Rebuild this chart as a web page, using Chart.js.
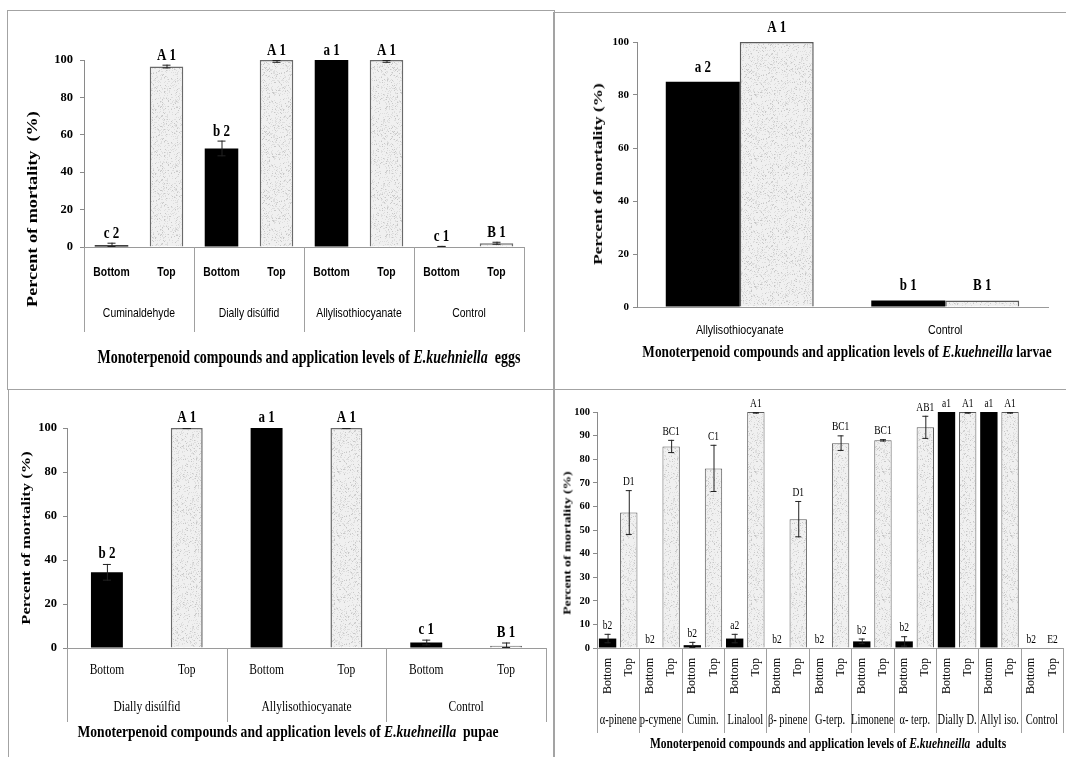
<!DOCTYPE html>
<html>
<head>
<meta charset="utf-8">
<script src="https://cdn.jsdelivr.net/npm/chart.js@4.4.0/dist/chart.umd.min.js"></script>
<style>
  body { margin: 0; background: #fff; width: 1066px; height: 757px; overflow: hidden; position: relative; }
  .panel { position: absolute; border: 1.5px solid #a3a3a3; box-sizing: border-box; }
  canvas { position: absolute; }
  .ttl, .ytl { position: absolute; white-space: nowrap; font-family: "Liberation Serif", "Times New Roman", serif; font-weight: bold; color: #000; }
  .ttl { transform: translate(-50%, -50%) scaleY(1.3); }
  .ytl { transform: translate(-50%, -50%) rotate(-90deg) scaleX(1.3); }
</style>
</head>
<body>
<div class="panel" style="left:7px;top:10px;width:548px;height:380px"></div>
<div class="panel" style="left:553px;top:12px;width:520px;height:378px"></div>
<div class="panel" style="left:8px;top:389px;width:547px;height:380px"></div>
<div class="panel" style="left:553px;top:389px;width:520px;height:380px"></div>

<canvas id="eggs" width="546" height="379" style="left:7px;top:10px"></canvas>
<canvas id="larvae" width="513" height="377" style="left:553px;top:12px"></canvas>
<canvas id="pupae" width="545" height="368" style="left:8px;top:389px"></canvas>
<canvas id="adults" width="513" height="368" style="left:553px;top:389px"></canvas>

<div class="ytl" style="left:33px;top:209px;font-size:14px">Percent of mortality&nbsp; (%)</div>
<div class="ttl" style="left:309px;top:358px;font-size:14px">Monoterpenoid compounds and application levels of <i>E.kuehniella</i>&nbsp; eggs</div>

<div class="ytl" style="left:598px;top:174px;font-size:13.3px">Percent of mortality (%)</div>
<div class="ttl" style="left:847px;top:352px;font-size:13.3px">Monoterpenoid compounds and application levels of <i>E.kuehneilla</i> larvae</div>

<div class="ytl" style="left:26px;top:538px;font-size:12.7px">Percent of mortality (%)</div>
<div class="ttl" style="left:288px;top:732px;font-size:13.6px">Monoterpenoid compounds and application levels of <i>E.kuehneilla</i>&nbsp; pupae</div>

<div class="ytl" style="left:567px;top:543px;font-size:10.5px">Percent of mortality (%)</div>
<div class="ttl" style="left:828px;top:743px;font-size:11.5px">Monoterpenoid compounds and application levels of <i>E.kuehneilla</i>&nbsp; adults</div>

<script>
// niveaux d'application
const levels = ['Bottom', 'Top'];

// oeufs
const eggGroups = ['Cuminaldehyde', 'Dially disúlfid', 'Allylisothiocyanate', 'Control'];
const eggBottom = [1, 52.7, 100, 0.3];
const eggTop = [96.5, 100, 100, 2];
const eggBottomErr = [1.3, 4.2, 0, 0.3];
const eggTopErr = [1, 1.5, 1.5, 0.8];
const eggBottomTags = ['c 2', 'b 2', 'a 1', 'c 1'];
const eggTopTags = ['A 1', 'A 1', 'A 1', 'B 1'];

// larves
const larvaGroups = ['Allylisothiocyanate', 'Control'];
const larvaBottom = [85, 2.5];
const larvaTop = [100, 2.5];
const larvaBottomTags = ['a 2', 'b 1'];
const larvaTopTags = ['A 1', 'B 1'];

// nymphes
const pupaGroups = ['Dially disúlfid', 'Allylisothiocyanate', 'Control'];
const pupaBottom = [34.4, 100, 2.5];
const pupaTop = [100, 100, 1];
const pupaBottomErr = [3.8, 0, 1.3];
const pupaTopErr = [0.5, 0.5, 1.5];
const pupaBottomTags = ['b 2', 'a 1', 'c 1'];
const pupaTopTags = ['A 1', 'A 1', 'B 1'];

// adultes
const adultGroups = ['α-pinene', 'p-cymene', 'Cumin.', 'Linalool', 'β- pinene', 'G-terp.', 'Limonene', 'α- terp.', 'Dially D.', 'Allyl iso.', 'Control'];
const adultBottom = [4, 0, 1.2, 4, 0, 0, 2.8, 2.8, 100, 100, 0];
const adultTop = [57.4, 85.4, 76.1, 100, 54.6, 86.8, 88, 93.5, 100, 100, 0];
const adultBottomErr = [2, 0, 1.4, 2, 0, 0, 1.2, 2.2, 0, 0, 0];
const adultTopErr = [9.5, 2.8, 10, 0.7, 7.7, 3.3, 0.5, 4.9, 0.7, 0.7, 0];
const adultBottomTags = ['b2', 'b2', 'b2', 'a2', 'b2', 'b2', 'b2', 'b2', 'a1', 'a1', 'b2'];
const adultTopTags = ['D1', 'BC1', 'C1', 'A1', 'D1', 'BC1', 'BC1', 'AB1', 'A1', 'A1', 'E2'];

const SERIF = '"Liberation Serif", "Times New Roman", serif';
const SANS = '"Liberation Sans", Arial, sans-serif';

// alterne Bottom / Top
const mix = (a, b) => a.flatMap((v, i) => [v, b[i]]);

// texture pointillée des barres "Top"
function stipple() {
    const c = document.createElement('canvas');
    c.width = 64; c.height = 64;
    const g = c.getContext('2d');
    const img = g.createImageData(64, 64);
    for (let y = 0; y < 64; y++) {
        for (let x = 0; x < 64; x++) {
            const h = (((x * 73856093) ^ (y * 19349663)) >>> 0) % 100;
            const v = h < 5 ? 200 : h < 22 ? 222 : 240;
            const k = (y * 64 + x) * 4;
            img.data[k] = v; img.data[k + 1] = v; img.data[k + 2] = v; img.data[k + 3] = 255;
        }
    }
    g.putImageData(img, 0, 0);
    return g.createPattern(c, 'repeat');
}
const dots = stipple();

function drawText(ctx, txt, x, y, font, align, baseline, sy, rot, sx) {
    ctx.save();
    ctx.translate(x, y);
    if (rot) ctx.rotate(rot);
    ctx.scale(sx || 1, sy || 1);
    ctx.font = font;
    ctx.fillStyle = '#000';
    ctx.textAlign = align;
    ctx.textBaseline = baseline;
    ctx.fillText(txt, 0, 0);
    ctx.restore();
}

const decor = {
    id: 'decor',
    afterDatasetsDraw(chart) {
        const o = chart.options.plugins.decor;
        const ctx = chart.ctx, ys = chart.scales.y;
        chart.data.datasets.forEach((ds, d) => {
            chart.getDatasetMeta(d).data.forEach((bar, i) => {
                const v = ds.data[i], e = ds.errs ? ds.errs[i] : 0;
                const x = bar.x;
                let top = ys.getPixelForValue(v);
                if (e > 0) {
                    const hi = ys.getPixelForValue(Math.min(100, v + e));
                    const lo = ys.getPixelForValue(Math.max(0, v - e));
                    ctx.save();
                    ctx.strokeStyle = '#222';
                    ctx.lineWidth = 1;
                    ctx.beginPath();
                    ctx.moveTo(x + 0.5, lo); ctx.lineTo(x + 0.5, hi);
                    ctx.moveTo(x - o.cap, hi + 0.5); ctx.lineTo(x + o.cap, hi + 0.5);
                    ctx.moveTo(x - o.cap, lo - 0.5); ctx.lineTo(x + o.cap, lo - 0.5);
                    ctx.stroke();
                    ctx.restore();
                    top = Math.min(top, hi);
                }
                drawText(ctx, ds.tags[i], x, top - o.tagGap, o.tagFont, 'center', 'alphabetic', o.tagSy);
            });
        });
    },
    afterDraw(chart) {
        const o = chart.options.plugins.decor;
        const ctx = chart.ctx, xs = chart.scales.x;
        const n = o.groups.length;
        const gw = xs.width / n;
        if (o.sepBottom) {
            ctx.save();
            ctx.strokeStyle = '#a0a0a0';
            ctx.lineWidth = 1;
            ctx.beginPath();
            for (let i = 0; i <= n; i++) {
                const x = Math.round(xs.left + i * gw) + 0.5;
                ctx.moveTo(x, xs.top);
                ctx.lineTo(x, o.sepBottom);
            }
            ctx.stroke();
            ctx.restore();
        }
        if (o.levelFont) {
            for (let j = 0; j < n * 2; j++) {
                const x = xs.getPixelForValue(j);
                if (o.levelRot) {
                    drawText(ctx, levels[j % 2], x, o.levelY, o.levelFont, 'right', 'middle', 1, -Math.PI / 2);
                } else {
                    drawText(ctx, levels[j % 2], x, o.levelY, o.levelFont, 'center', 'middle', o.levelSy, 0, o.levelSx);
                }
            }
        }
        o.groups.forEach((g, i) => {
            const x = o.levelFont ? xs.left + (i + 0.5) * gw : xs.getPixelForValue(i);
            drawText(ctx, g, x, o.groupY, o.groupFont, 'center', 'middle', o.groupSy, 0, o.groupSx);
        });
    }
};

function makeChart(id, cfg) {
    return new Chart(document.getElementById(id), {
        type: 'bar',
        data: { labels: cfg.labels, datasets: cfg.datasets },
        options: {
            responsive: false,
            animation: false,
            layout: { padding: { left: 0, top: cfg.top, right: cfg.right, bottom: 0 } },
            plugins: { legend: { display: false }, tooltip: { enabled: false }, decor: cfg.decor },
            scales: {
                x: {
                    grid: { display: false },
                    border: { display: true, color: '#9a9a9a', width: 1 },
                    ticks: { display: false },
                    afterFit: s => { s.height = cfg.xHeight; }
                },
                y: {
                    min: 0, max: 100,
                    grid: { display: true, drawOnChartArea: false, drawTicks: true, tickLength: 4, color: '#8a8a8a' },
                    border: { display: true, color: '#8a8a8a', width: 1 },
                    ticks: { stepSize: cfg.step, padding: cfg.tickPad, color: '#000', font: { family: SERIF, size: cfg.tickSize, weight: 'bold' } },
                    afterFit: s => { s.width = cfg.yWidth; }
                }
            }
        },
        plugins: [decor]
    });
}

const isTop = c => c.dataIndex % 2 === 1;

// oeufs
makeChart('eggs', {
    labels: mix(eggGroups, eggGroups),
    datasets: [{
        data: mix(eggBottom, eggTop),
        errs: mix(eggBottomErr, eggTopErr),
        tags: mix(eggBottomTags, eggTopTags),
        backgroundColor: c => isTop(c) ? dots : '#000',
        borderColor: c => isTop(c) ? '#6a6a6a' : '#000',
        borderWidth: c => isTop(c) ? 1.5 : 0,
        barPercentage: 0.61, categoryPercentage: 1
    }],
    top: 50, right: 29, xHeight: 142, yWidth: 77, step: 20, tickPad: 7, tickSize: 12.5,
    decor: { groups: eggGroups, cap: 4, tagFont: 'bold 13px ' + SERIF, tagSy: 1.3, tagGap: 5,
        sepBottom: 322, levelFont: 'bold 13px ' + SANS, levelY: 262, levelSy: 1.05, levelSx: 0.8,
        groupFont: '13px ' + SANS, groupY: 303, groupSy: 1.05, groupSx: 0.8 }
});

// larves
makeChart('larvae', {
    labels: larvaGroups,
    datasets: [{
        data: larvaBottom, tags: larvaBottomTags,
        backgroundColor: '#000', borderColor: '#000', borderWidth: 0,
        barPercentage: 1, categoryPercentage: 0.72
    }, {
        data: larvaTop, tags: larvaTopTags,
        backgroundColor: dots, borderColor: '#5a5a5a', borderWidth: 1.5,
        barPercentage: 1, categoryPercentage: 0.72
    }],
    top: 30, right: 18, xHeight: 82, yWidth: 84, step: 20, tickPad: 4, tickSize: 11,
    decor: { groups: larvaGroups, cap: 4, tagFont: 'bold 13px ' + SERIF, tagSy: 1.3, tagGap: 10,
        sepBottom: 0, levelFont: null, groupFont: '13px ' + SANS, groupY: 318, groupSy: 1.05, groupSx: 0.82 }
});

// nymphes
makeChart('pupae', {
    labels: mix(pupaGroups, pupaGroups),
    datasets: [{
        data: mix(pupaBottom, pupaTop),
        errs: mix(pupaBottomErr, pupaTopErr),
        tags: mix(pupaBottomTags, pupaTopTags),
        backgroundColor: c => isTop(c) ? dots : '#000',
        borderColor: c => isTop(c) ? '#6a6a6a' : '#000',
        borderWidth: c => isTop(c) ? 1.5 : 0,
        barPercentage: 0.4, categoryPercentage: 1
    }],
    top: 39, right: 7, xHeight: 109, yWidth: 59, step: 20, tickPad: 6, tickSize: 12.5,
    decor: { groups: pupaGroups, cap: 4, tagFont: 'bold 13px ' + SERIF, tagSy: 1.3, tagGap: 6,
        sepBottom: 333, levelFont: '11.5px ' + SERIF, levelY: 281, levelSy: 1.2,
        groupFont: '11.5px ' + SERIF, groupY: 318, groupSy: 1.25 }
});

// adultes
makeChart('adults', {
    labels: mix(adultGroups, adultGroups),
    datasets: [{
        data: mix(adultBottom, adultTop),
        errs: mix(adultBottomErr, adultTopErr),
        tags: mix(adultBottomTags, adultTopTags),
        backgroundColor: c => isTop(c) ? dots : '#000',
        borderColor: c => isTop(c) ? '#5a5a5a' : '#000',
        borderWidth: c => isTop(c) ? 1 : 0,
        barPercentage: 0.82, categoryPercentage: 1
    }],
    top: 23, right: 3, xHeight: 109, yWidth: 44, step: 10, tickPad: 3, tickSize: 10.5,
    decor: { groups: adultGroups, cap: 3, tagFont: '9.5px ' + SERIF, tagSy: 1.35, tagGap: 5,
        sepBottom: 344, levelFont: '12px ' + SERIF, levelY: 269, levelRot: true,
        groupFont: '10.5px ' + SERIF, groupY: 331, groupSy: 1.35 }
});
</script>
</body>
</html>
